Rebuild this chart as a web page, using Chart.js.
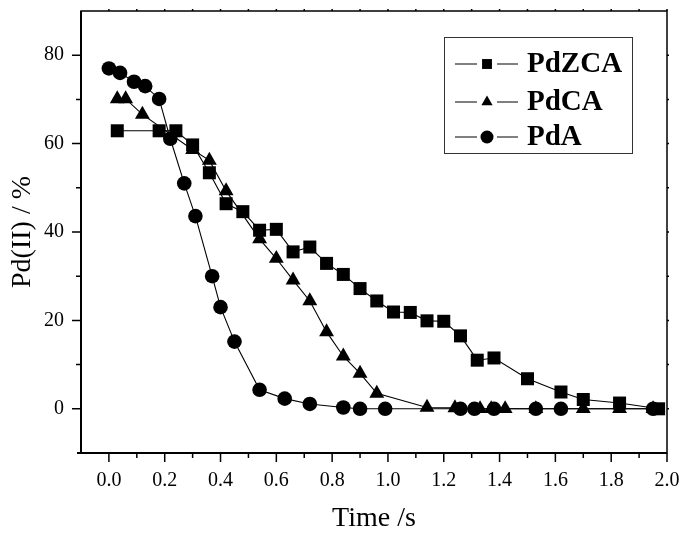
<!DOCTYPE html>
<html>
<head>
<meta charset="utf-8">
<script src="https://cdn.jsdelivr.net/npm/chart.js@4.4.0/dist/chart.umd.min.js"></script>
<style>
  html, body { margin: 0; padding: 0; background: #fff; }
  #wrap { width: 680px; height: 535px; }
</style>
</head>
<body>
<div id="wrap"><canvas id="c" width="680" height="535"></canvas></div>
<script>
// Values (time in s, Pd(II) in %)
const zcaX = [0.03, 0.18, 0.24, 0.30, 0.36, 0.42, 0.48, 0.54, 0.60, 0.66, 0.72, 0.78, 0.84, 0.90,
              0.96, 1.02, 1.08, 1.14, 1.20, 1.26, 1.32, 1.38, 1.50, 1.62, 1.70, 1.83, 1.97];
const zcaY = [62.9, 62.9, 62.9, 59.7, 53.4, 46.4, 44.6, 40.4, 40.6, 35.5, 36.6, 32.9, 30.4, 27.2,
              24.4, 21.9, 21.8, 19.9, 19.8, 16.5, 11.0, 11.5, 6.8, 3.8, 2.1, 1.3, 0];

const caX = [0.03, 0.06, 0.12, 0.30, 0.36, 0.42, 0.54, 0.60, 0.66, 0.72, 0.78, 0.84, 0.90, 0.96,
             1.14, 1.24, 1.33, 1.37, 1.42, 1.53, 1.70, 1.83, 1.95];
const caY = [70.1, 70.1, 66.6, 58.6, 56.2, 49.3, 38.4, 34.0, 29.1, 24.4, 17.4, 11.9, 8.0, 3.5,
             0.3, 0.2, 0, 0, 0, 0, 0, 0, 0];

const aX = [0.00, 0.04, 0.09, 0.13, 0.18, 0.22, 0.27, 0.31, 0.37, 0.40, 0.45, 0.54, 0.63, 0.72,
            0.84, 0.90, 0.99, 1.26, 1.31, 1.38, 1.53, 1.62, 1.95];
const aY = [77.0, 76.0, 74.0, 73.0, 70.1, 61.1, 51.0, 43.6, 30.0, 23.0, 15.2, 4.3, 2.3, 1.1,
            0.3, 0, 0, 0, 0, 0, 0, 0, 0];

const seriesNames = ['PdZCA', 'PdCA', 'PdA'];
const xLabelTicks = [0.0, 0.2, 0.4, 0.6, 0.8, 1.0, 1.2, 1.4, 1.6, 1.8, 2.0];
const yLabelTicks = [0, 20, 40, 60, 80];

const SERIF = "'Liberation Serif', 'Times New Roman', serif";

// zip two arrays into {x, y} points
function pts(xs, ys) {
  return xs.map((x, i) => ({ x: x, y: ys[i] }));
}

// line + marker dataset in black
function ds(label, data, style, r) {
  return {
    label: label,
    data: data,
    showLine: true,
    borderColor: '#000',
    borderWidth: 1.1,
    backgroundColor: '#000',
    pointBackgroundColor: '#000',
    pointBorderColor: '#000',
    pointBorderWidth: 0,
    pointStyle: style,
    pointRadius: r,
    tension: 0,
    clip: false
  };
}

// Frame with Origin-style ticks (major outward, minor shorter)
const framePlugin = {
  id: 'frame',
  beforeDatasetsDraw(chart) {
    const ctx = chart.ctx;
    const a = chart.chartArea;
    const xs = chart.scales.x, ys = chart.scales.y;
    ctx.save();
    ctx.strokeStyle = '#000';
    ctx.lineWidth = 1.5;
    ctx.strokeRect(a.left, a.top, a.right - a.left, a.bottom - a.top);
    ctx.lineWidth = 2;
    ctx.beginPath();
    ctx.moveTo(a.left - 4, a.bottom); ctx.lineTo(a.right, a.bottom);
    ctx.moveTo(a.left, a.bottom); ctx.lineTo(a.left, a.top);
    ctx.stroke();
    ctx.lineWidth = 1.5;
    ctx.beginPath();
    // x ticks every 0.1, longer on labelled ones
    for (let i = 0; i <= 20; i++) {
      const v = i / 10;
      const px = xs.getPixelForValue(v);
      const len = (i % 2 === 0) ? 9 : 5;
      ctx.moveTo(px, a.bottom); ctx.lineTo(px, a.bottom + len);
      ctx.moveTo(px, a.top); ctx.lineTo(px, a.top - 2);
    }
    // y ticks every 10
    for (let v = 0; v <= 80; v += 10) {
      const py = ys.getPixelForValue(v);
      const len = (v % 20 === 0) ? 9 : 5;
      ctx.moveTo(a.left, py); ctx.lineTo(a.left - len, py);
      ctx.moveTo(a.right, py); ctx.lineTo(a.right + 2, py);
    }
    ctx.stroke();
    ctx.restore();
  }
};

// Boxed legend, line - marker - line, bold serif names
const legendPlugin = {
  id: 'boxLegend',
  afterDatasetsDraw(chart) {
    const ctx = chart.ctx;
    const bx = 444, by = 37, bw = 188, bh = 116;
    const rows = [64, 102, 137];
    ctx.save();
    ctx.fillStyle = '#fff';
    ctx.fillRect(bx, by, bw, bh);
    ctx.strokeStyle = '#333';
    ctx.lineWidth = 1;
    ctx.strokeRect(bx + 0.5, by + 0.5, bw, bh);
    chart.data.datasets.forEach((d, i) => {
      const y = rows[i];
      ctx.strokeStyle = '#000';
      ctx.lineWidth = 1;
      ctx.beginPath();
      ctx.moveTo(455, y); ctx.lineTo(477, y);
      ctx.moveTo(497, y); ctx.lineTo(518, y);
      ctx.stroke();
      ctx.fillStyle = '#000';
      Chart.helpers.drawPoint(ctx, {
        pointStyle: d.pointStyle, radius: d.pointStyle === 'rect' ? 7 : 6.5,
        borderWidth: 0, rotation: 0
      }, 487, y);
      ctx.font = "bold 29px " + SERIF;
      ctx.textBaseline = 'middle';
      ctx.textAlign = 'left';
      ctx.fillText(d.label, 527, y + 1);
    });
    ctx.restore();
  }
};

const chart = new Chart(document.getElementById('c'), {
  type: 'scatter',
  data: {
    datasets: [
      ds(seriesNames[0], pts(zcaX, zcaY), 'rect', 9.2),
      ds(seriesNames[1], pts(caX, caY), 'triangle', 8.6),
      ds(seriesNames[2], pts(aX, aY), 'circle', 7.3)
    ]
  },
  options: {
    responsive: false,
    devicePixelRatio: 1,
    animation: false,
    layout: { padding: { top: 11, right: 13, left: 0, bottom: 0 } },
    plugins: {
      legend: { display: false },
      tooltip: { enabled: false }
    },
    scales: {
      x: {
        type: 'linear',
        min: -0.1,
        max: 2.0,
        afterFit: (s) => { s.height = 82; s.paddingLeft = 0; s.paddingRight = 0; },
        afterBuildTicks: (s) => { s.ticks = xLabelTicks.map(v => ({ value: v })); },
        ticks: {
          color: '#000',
          font: { family: SERIF, size: 20 },
          padding: 16,
          maxRotation: 0,
          autoSkip: false,
          callback: (v) => Number(v).toFixed(1)
        },
        grid: { display: false, drawTicks: false },
        border: { display: false },
        title: {
          display: true,
          text: 'Time /s',
          color: '#000',
          font: { family: SERIF, size: 28 },
          padding: { top: 0, bottom: 0 }
        }
      },
      y: {
        type: 'linear',
        min: -10,
        max: 90,
        afterFit: (s) => { s.width = 81; s.paddingTop = 0; s.paddingBottom = 0; },
        afterBuildTicks: (s) => { s.ticks = yLabelTicks.map(v => ({ value: v })); },
        ticks: {
          color: '#000',
          font: { family: SERIF, size: 20 },
          padding: 17,
          autoSkip: false
        },
        grid: { display: false, drawTicks: false },
        border: { display: false },
        title: {
          display: true,
          text: 'Pd(II) / %',
          color: '#000',
          font: { family: SERIF, size: 28 },
          padding: { top: 6, bottom: 0 }
        }
      }
    }
  },
  plugins: [framePlugin, legendPlugin]
});
</script>
</body>
</html>
